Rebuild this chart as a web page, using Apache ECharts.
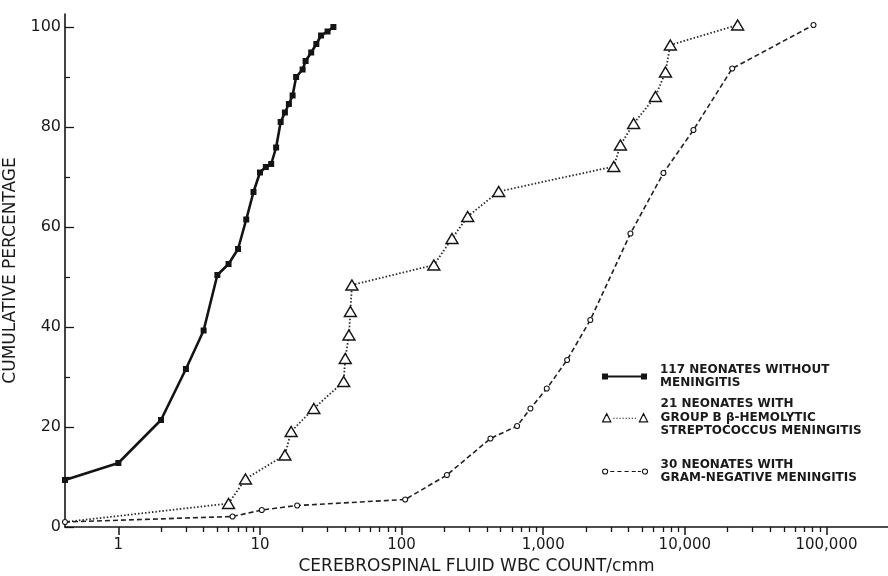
<!DOCTYPE html>
<html>
<head>
<meta charset="utf-8">
<script src="https://cdn.jsdelivr.net/npm/echarts@6/dist/echarts.min.js"></script>
<style>
html,body{margin:0;padding:0;background:#fff;}
#chart{width:888px;height:576px;}
</style>
</head>
<body>
<div id="chart"></div>
<script>
// Axis ranges (log x axis; counts of 0 are plotted at the axis minimum)
const xMin = 0.42;
const xMax = 272000;
const yMax = 102.6;

// Tick labels
const xMajorTicks = [1, 10, 100, 1000, 10000, 100000];
const xMinorTicks = [2,3,4,5,6,7,8,9, 20,30,40,50,60,70,80,90, 200,300,400,500,600,700,800,900,
  2000,3000,4000,5000,6000,7000,8000,9000, 20000,30000,40000,50000,60000,70000,80000,90000];
const yMajorTicks = [0, 20, 40, 60, 80, 100];
const yMinorTicks = [10, 30, 50, 70, 90];

// Series names
const name1 = '117 NEONATES WITHOUT\nMENINGITIS';
const name2 = '21 NEONATES WITH\nGROUP B \u03B2-HEMOLYTIC\nSTREPTOCOCCUS MENINGITIS';
const name3 = '30 NEONATES WITH\nGRAM-NEGATIVE MENINGITIS';

// Series 1: without meningitis
const s1X = [0.42, 1, 2, 3, 4, 5, 6, 7, 8, 9, 10, 11, 12, 13, 14, 15, 16, 17, 18, 20, 21, 23, 25, 27, 30, 33];
const s1Y = [9.4, 12.8, 21.4, 31.6, 39.3, 50.4, 52.6, 55.6, 61.5, 67, 70.9, 72, 72.6, 75.9, 81, 82.9, 84.6, 86.3, 90, 91.5, 93.2, 94.9, 96.6, 98.3, 99.1, 100];

// Series 2: group B streptococcus meningitis
const s2X = [0.42, 6, 7.9, 15, 16.6, 24, 39, 40, 42.5, 43.5, 44.6, 169, 227, 293, 485, 3150, 3510, 4350, 6200, 7300, 7900, 23600];
const s2Y = [1, 4.7, 9.6, 14.4, 19.1, 23.7, 29.1, 33.7, 38.4, 43.1, 48.4, 52.4, 57.7, 62.1, 67.1, 72.1, 76.4, 80.7, 86.1, 91, 96.4, 100.4];

// Series 3: gram-negative meningitis
const s3X = [0.42, 6.4, 10.3, 18.3, 106, 209, 424, 654, 812, 1060, 1475, 2150, 4130, 7060, 11500, 21600, 81000];
const s3Y = [1.0, 2.1, 3.4, 4.3, 5.5, 10.4, 17.7, 20.2, 23.7, 27.7, 33.4, 41.4, 58.7, 70.8, 79.4, 91.7, 100.4];

function pairs(xs, ys) { return xs.map((x, i) => [x, ys[i]]); }

const ink = '#141414';
const font = 'DejaVu Sans';

const s2Data = pairs(s2X, s2Y).map((p, i) => i === 0 ? { value: p, symbol: 'none' } : p);

function legendFor(name, top, icon, h, itemStyle, padTop) {
  return {
    orient: 'vertical', left: 602, top: top, padding: 0,
    itemWidth: 45, itemHeight: h, selectedMode: false,
    textStyle: { fontFamily: font, fontSize: 12, fontWeight: 'bold', color: '#1a1a1a', lineHeight: 13.5, padding: [padTop, 0, 0, 8] },
    data: [{ name: name, icon: icon, itemStyle: itemStyle }]
  };
}

const icon1 = 'path://M0,0h6v6h-6zM6,2h33v2h-33zM39,0h6v6h-6z';
const icon2 = 'path://M0.5,8.5L4.5,0.5L8.5,8.5ZM36.5,8.5L40.5,0.5L44.5,8.5ZM11,5h1.2M14,5h1.2M17,5h1.2M20,5h1.2M23,5h1.2M26,5h1.2M29,5h1.2M32,5h1.2';
const icon3 = 'path://M0.5,3a2.5,2.5 0 1,0 5,0a2.5,2.5 0 1,0 -5,0ZM39.5,3a2.5,2.5 0 1,0 5,0a2.5,2.5 0 1,0 -5,0ZM8,3h4M15,3h4M22,3h4M29,3h4M35,3h3';

const option = {
  backgroundColor: '#fff',
  animation: false,
  grid: { left: 65, right: 0, top: 14, bottom: 49, containLabel: false, outerBoundsMode: 'none' },
  legend: [
    legendFor(name1, 356.5, icon1, 6, { color: ink }, 13),
    legendFor(name2, 384.5, icon2, 9, { color: 'rgba(0,0,0,0)', borderColor: ink, borderWidth: 1.2 }, 26),
    legendFor(name3, 451.5, icon3, 6, { color: 'rgba(0,0,0,0)', borderColor: ink, borderWidth: 1.1 }, 13)
  ],
  xAxis: [{
    type: 'log', logBase: 10, min: xMin, max: xMax,
    name: 'CEREBROSPINAL FLUID WBC COUNT/cmm', nameLocation: 'middle', nameGap: 31,
    nameTextStyle: { fontFamily: font, fontSize: 17, color: '#1a1a1a' },
    axisLine: { show: true, lineStyle: { color: ink, width: 1.6 } },
    axisTick: { show: true, inside: false, length: 8, customValues: xMajorTicks, lineStyle: { color: ink, width: 1.5 } },
    axisLabel: { show: true, margin: 11, customValues: xMajorTicks, fontFamily: font, fontSize: 15, color: '#1a1a1a',
      formatter: v => Math.round(v).toLocaleString('en-US') },
    splitLine: { show: false }, minorTick: { show: false }
  }, {
    type: 'log', logBase: 10, min: xMin, max: xMax, position: 'bottom',
    axisLine: { show: false },
    axisTick: { show: true, inside: false, length: 5, customValues: xMinorTicks, lineStyle: { color: ink, width: 1.3 } },
    axisLabel: { show: false }, splitLine: { show: false }
  }],
  yAxis: [{
    type: 'value', min: 0, max: yMax,
    name: 'CUMULATIVE PERCENTAGE', nameLocation: 'middle', nameGap: 43, nameRotate: 90,
    nameTextStyle: { fontFamily: font, fontSize: 17, color: '#1a1a1a' },
    axisLine: { show: true, lineStyle: { color: ink, width: 1.6 } },
    axisTick: { show: true, inside: true, length: 9, customValues: yMajorTicks, lineStyle: { color: ink, width: 1.3 } },
    axisLabel: { show: true, margin: 4, customValues: yMajorTicks, fontFamily: font, fontSize: 16, color: '#1a1a1a' },
    splitLine: { show: false }
  }, {
    type: 'value', min: 0, max: yMax, position: 'left',
    axisLine: { show: false },
    axisTick: { show: true, inside: true, length: 5, customValues: yMinorTicks, lineStyle: { color: ink, width: 1.2 } },
    axisLabel: { show: false }, splitLine: { show: false }
  }],
  series: [{
    name: name1, type: 'line', xAxisIndex: 0, yAxisIndex: 0,
    data: pairs(s1X, s1Y), showAllSymbol: true,
    symbol: 'rect', symbolSize: 6,
    itemStyle: { color: ink },
    lineStyle: { color: ink, width: 2.6 }, z: 3
  }, {
    name: name2, type: 'line', xAxisIndex: 0, yAxisIndex: 0,
    data: s2Data, showAllSymbol: true,
    symbol: 'triangle', symbolSize: [12, 10],
    itemStyle: { color: '#fff', borderColor: ink, borderWidth: 1.4 },
    lineStyle: { color: '#2a2a2a', width: 1.8, type: [1.5, 2] }, z: 2
  }, {
    name: name3, type: 'line', xAxisIndex: 0, yAxisIndex: 0,
    data: pairs(s3X, s3Y), showAllSymbol: true,
    symbol: 'circle', symbolSize: 5,
    itemStyle: { color: '#fff', borderColor: ink, borderWidth: 1.1 },
    lineStyle: { color: '#222', width: 1.6, type: [5, 3] }, z: 2
  }]
};

const chart = echarts.init(document.getElementById('chart'), null, { renderer: 'canvas' });
chart.setOption(option);
</script>
</body>
</html>
